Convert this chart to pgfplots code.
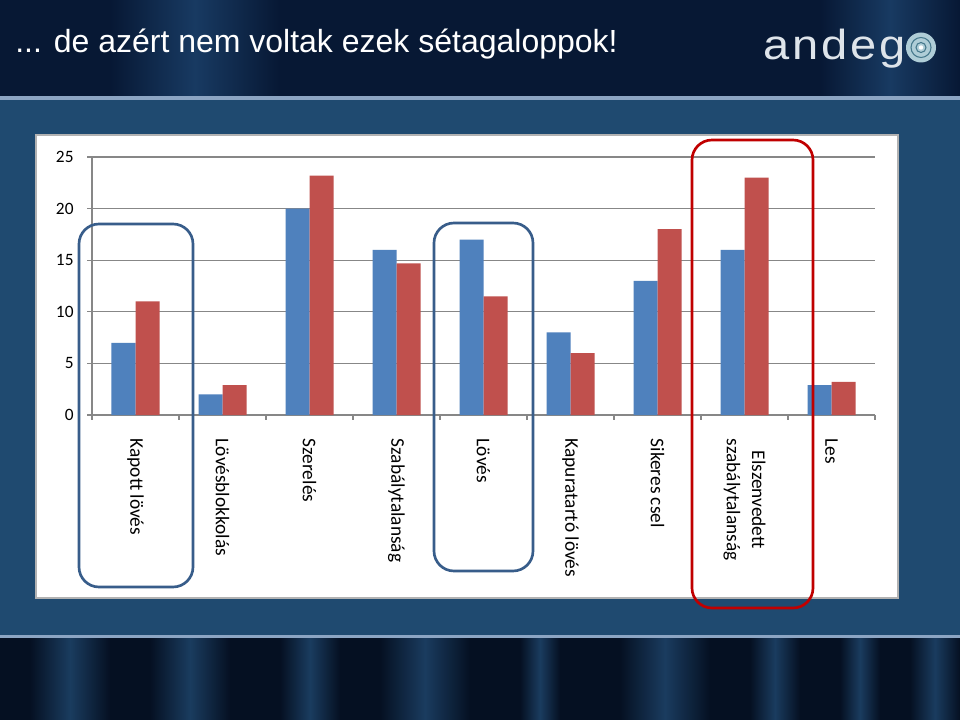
\documentclass[border=0pt]{standalone}
\usepackage{fontspec}
\setmainfont{Carlito}
\newfontfamily\titlefont{Liberation Sans}
\usepackage{pgfplots}
\pgfplotsset{compat=1.18}
\definecolor{xblue}{HTML}{4F81BD}
\definecolor{xred}{HTML}{C0504D}
\definecolor{gridgray}{HTML}{878787}
\definecolor{navy}{RGB}{7,24,52}
\definecolor{glow}{RGB}{24,58,98}
\definecolor{midblue}{RGB}{31,74,112}
\definecolor{lineblue}{RGB}{140,165,195}
\definecolor{shapeblue}{HTML}{385D8A}
\definecolor{shapered}{HTML}{C00000}
\definecolor{darkbot}{RGB}{5,16,34}
\definecolor{stripe}{RGB}{26,60,95}
\definecolor{logogray}{RGB}{222,228,234}
\definecolor{emblem}{RGB}{175,205,215}
\definecolor{emblemdark}{RGB}{70,120,140}

\begin{document}
\begin{tikzpicture}[x=0.75pt,y=-0.75pt]
% slide background
\fill[midblue] (0,0) rectangle (960,720);
\fill[navy] (0,0) rectangle (960,97);
\shade[left color=navy, right color=navy, middle color=glow] (110,0) rectangle (280,97);
\shade[left color=navy, right color=navy, middle color=glow] (820,0) rectangle (960,97);
\fill[lineblue] (0,96) rectangle (960,100);
\fill[darkbot] (0,636) rectangle (960,720);
\foreach \a/\b in {30/110,150/230,280/340,380/470,520/560,620/710,750/800,840/880,910/960}{
  \shade[left color=darkbot, right color=darkbot, middle color=stripe] (\a,638) rectangle (\b,720);
}
\fill[lineblue] (0,635) rectangle (960,638);
% white chart area
\fill[white, draw=gray!60, line width=1.2pt] (36,135) rectangle (898,598);
% title
\node[anchor=base west, inner sep=0, text=white, font=\titlefont\fontsize{24}{28}\selectfont] at (15,53) {... de azért nem voltak ezek sétagaloppok!};
% logo
\node[anchor=base west, inner sep=0, text=logogray, xscale=1.12, font=\titlefont\fontsize{31.5}{36}\selectfont] at (763,60) {a\kern2pt n\kern2pt d\kern2pt e\kern2pt g};
\fill[emblem] (921,47.5) circle[radius=15];
\draw[emblemdark, line width=0.8pt] (921,47.5) circle[radius=10];
\draw[emblemdark, line width=0.8pt] (921,47.5) circle[radius=5];
\fill[white] (921,47.5) circle[radius=2.2];

\begin{axis}[
  at={(69pt,-311.25pt)}, anchor=south west,
  scale only axis, width=587.25pt, height=193.5pt,
  xmin=-0.5, xmax=8.5, ymin=0, ymax=25,
  ybar=0pt, bar width=18pt,
  axis lines=left,
  axis line style={gridgray, line width=0.8pt, -},
  ymajorgrids, grid style={gridgray, line width=0.8pt},
  ytick={0,5,10,15,20,25},
  xtick={-0.5,0.5,1.5,2.5,3.5,4.5,5.5,6.5,7.5,8.5},
  x tick label as interval,
  xticklabels={Kapott lövés,Lövésblokkolás,Szerelés,Szabálytalanság,Lövés,Kapuratartó lövés,Sikeres csel,{Elszenvedett\\szabálytalanság},Les},
  tick align=outside,
  major tick length=3.5pt,
  tick style={gridgray, line width=0.8pt},
  /pgf/number format/assume math mode=true,
  yticklabel style={font=\fontsize{13}{15}\selectfont, anchor=east, outer xsep=7pt},
  xticklabel style={font=\fontsize{14.5}{19}\selectfont, rotate=-90, anchor=west, align=center, outer xsep=11pt},
  clip=false,
]
\addplot[fill=xblue, draw=none] coordinates {(0,7) (1,2) (2,20) (3,16) (4,17) (5,8) (6,13) (7,16) (8,2.9)};
\addplot[fill=xred, draw=none] coordinates {(0,11) (1,2.9) (2,23.2) (3,14.7) (4,11.5) (5,6) (6,18) (7,23) (8,3.2)};
\end{axis}

% annotation frames
\draw[shapeblue, line width=2pt, rounded corners=15pt] (79,224) rectangle (193,587);
\draw[shapeblue, line width=2pt, rounded corners=15pt] (434,223) rectangle (533,571);
\draw[shapered, line width=2pt, rounded corners=15pt] (692,140) rectangle (813,608);
\end{tikzpicture}
\end{document}
